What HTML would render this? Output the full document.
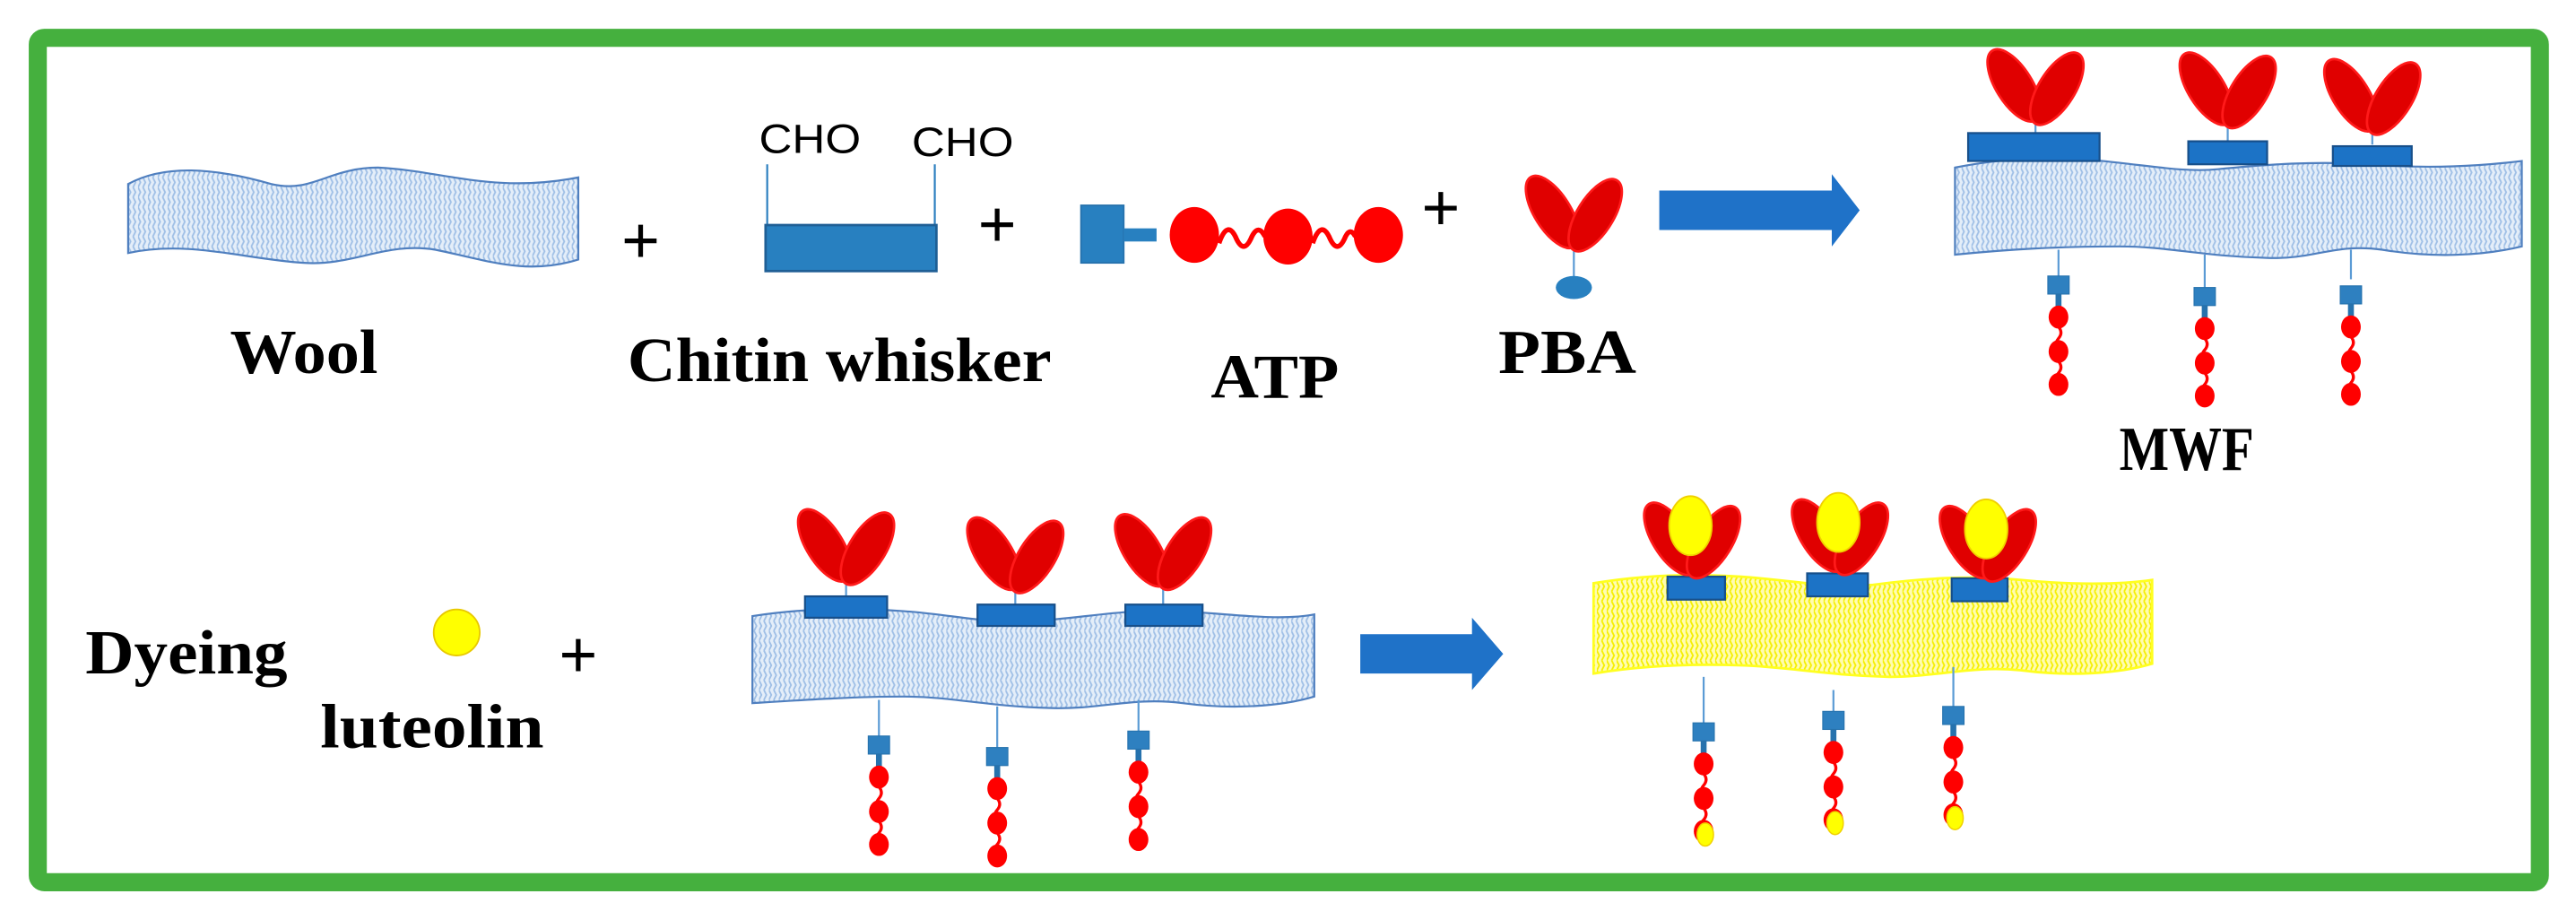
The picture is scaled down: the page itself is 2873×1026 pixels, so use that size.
<!DOCTYPE html>
<html><head><meta charset="utf-8"><style>html,body{margin:0;padding:0;background:#fff}svg{display:block}</style></head>
<body>
<svg width="2873" height="1026" viewBox="0 0 1568 560" preserveAspectRatio="none" xmlns="http://www.w3.org/2000/svg">
<defs>
<pattern id="hb" width="6" height="6" patternUnits="userSpaceOnUse">
<rect width="6" height="6" fill="#e4eef9"/>
<path d="M0,0 L1.5,3 L0,6 M3,0 L4.5,3 L3,6" stroke="#9fbfe6" stroke-width="1" fill="none"/>
</pattern>
<pattern id="hy" width="6" height="6" patternUnits="userSpaceOnUse">
<rect width="6" height="6" fill="#fffcb0"/>
<path d="M0,0 L1.5,3 L0,6 M3,0 L4.5,3 L3,6" stroke="#f5ef00" stroke-width="1" fill="none"/>
</pattern>
<g id="v">
<ellipse cx="-13" cy="-22" rx="11" ry="25" transform="rotate(-32 -13 -22)" fill="#e00000" stroke="#ff1a1a" stroke-width="1.5"/>
<ellipse cx="13" cy="-20" rx="11" ry="25" transform="rotate(32 13 -20)" fill="#e00000" stroke="#ff1a1a" stroke-width="1.5"/>
</g>
<g id="vy">
<use href="#v"/>
<ellipse cx="-1" cy="-30" rx="13" ry="18" fill="#ffff00" stroke="#f0d000" stroke-width="1"/>
</g>
<g id="ch">
<rect x="-6.5" y="0" width="13" height="11" fill="#2e80c0" stroke="#2672ad" stroke-width="0.6"/>
<rect x="-1.8" y="11" width="3.6" height="9" fill="#2672ad"/>
<ellipse cx="0" cy="25" rx="6" ry="7" fill="#ff0000"/>
<ellipse cx="0" cy="46" rx="6" ry="7" fill="#ff0000"/>
<ellipse cx="0" cy="66" rx="6" ry="7" fill="#ff0000"/>
<path d="M0,31 q3,3.5 0,7 q-3,3.5 0,7 M0,52 q3,3.5 0,7 q-3,3.5 0,7" stroke="#ff0000" stroke-width="1.8" fill="none"/>
</g>
<g id="chy">
<use href="#ch"/>
<ellipse cx="1" cy="68" rx="5" ry="7" fill="#ffff00" stroke="#f0d000" stroke-width="0.8"/>
</g>
</defs>

<rect x="0" y="0" width="1568" height="560" fill="#fff"/>
<rect x="23" y="23" width="1523" height="514" rx="4" fill="none" stroke="#45b03e" stroke-width="11"/>

<!-- Wool -->
<path d="M78,112 C100,100 130,102 165,112 C190,118 200,102 230,102 C270,104 300,118 352,108 L352,158 C320,168 295,158 265,152 C235,147 215,162 185,160 C150,158 115,146 78,154 Z" fill="url(#hb)" stroke="#4f7fbf" stroke-width="1.2"/>
<g font-family="Liberation Sans, sans-serif" font-size="40" text-anchor="middle">
<text x="390" y="160">+</text>
<text x="607" y="150">+</text>
<text x="877" y="140">+</text>
<text x="352" y="412">+</text>
</g>

<!-- Chitin whisker -->
<line x1="467" y1="100" x2="467" y2="137" stroke="#2e80c0" stroke-width="1.2"/>
<line x1="569" y1="100" x2="569" y2="137" stroke="#2e80c0" stroke-width="1.2"/>
<rect x="466" y="137" width="104" height="28" fill="#2880c0" stroke="#1f5f95" stroke-width="1.5"/>
<text x="462" y="93" font-family="Liberation Sans, sans-serif" font-size="25" textLength="62" lengthAdjust="spacingAndGlyphs">CHO</text>
<text x="555" y="95" font-family="Liberation Sans, sans-serif" font-size="25" textLength="62" lengthAdjust="spacingAndGlyphs">CHO</text>

<!-- ATP -->
<rect x="658" y="125" width="26" height="35" fill="#2880c0" stroke="#2672ad"/>
<rect x="684" y="139" width="20" height="8" fill="#2880c0"/>
<ellipse cx="727" cy="143" rx="15" ry="17" fill="#ff0000"/>
<ellipse cx="784" cy="144" rx="15" ry="17" fill="#ff0000"/>
<ellipse cx="839" cy="143" rx="15" ry="17" fill="#ff0000"/>
<path d="M742,148 q5,-14 10,-4 q5,12 10,0 q4,-8 8,0 M799,148 q5,-14 10,-4 q5,12 10,0 q3,-6 6,0" stroke="#ff0000" stroke-width="3" fill="none"/>

<!-- PBA -->
<line x1="958" y1="148" x2="958" y2="172" stroke="#5b9bd5" stroke-width="1.2"/>
<use href="#v" x="958" y="151"/>
<ellipse cx="958" cy="175" rx="11" ry="7" fill="#2880c0"/>

<!-- arrow 1 -->
<path d="M1010,116 L1115,116 L1115,106 L1132,128 L1115,150 L1115,140 L1010,140 Z" fill="#1f72c8"/>

<!-- labels -->
<g font-family="Liberation Serif, serif" font-weight="bold" font-size="38">
<text x="140" y="227" textLength="90" lengthAdjust="spacingAndGlyphs">Wool</text>
<text x="382" y="232" textLength="258" lengthAdjust="spacingAndGlyphs">Chitin whisker</text>
<text x="737" y="242" textLength="78" lengthAdjust="spacingAndGlyphs">ATP</text>
<text x="912" y="227" textLength="84" lengthAdjust="spacingAndGlyphs">PBA</text>
<text x="1290" y="286" textLength="82" lengthAdjust="spacingAndGlyphs">MWF</text>
<text x="52" y="410" textLength="123" lengthAdjust="spacingAndGlyphs">Dyeing</text>
<text x="195" y="455" textLength="136" lengthAdjust="spacingAndGlyphs">luteolin</text>
</g>

<!-- MWF -->
<path d="M1190,102 C1220,96 1250,95 1280,98 C1310,101 1330,105 1350,103 C1380,100 1410,98 1440,100 C1480,103 1510,101 1535,98 L1535,150 C1510,156 1480,157 1450,152 C1420,148 1410,158 1380,157 C1340,156 1320,150 1290,150 C1250,150 1220,152 1190,155 Z" fill="url(#hb)" stroke="#4f7fbf" stroke-width="1.2"/>
<line x1="1239" y1="70" x2="1239" y2="82" stroke="#5b9bd5" stroke-width="1.2"/>
<line x1="1356" y1="72" x2="1356" y2="86" stroke="#5b9bd5" stroke-width="1.2"/>
<line x1="1444" y1="76" x2="1444" y2="88" stroke="#5b9bd5" stroke-width="1.2"/>
<rect x="1198" y="81" width="80" height="17" fill="#1c73c6" stroke="#174f8a" stroke-width="1.2"/>
<rect x="1332" y="86" width="48" height="14" fill="#1c73c6" stroke="#174f8a" stroke-width="1.2"/>
<rect x="1420" y="89" width="48" height="12" fill="#1c73c6" stroke="#174f8a" stroke-width="1.2"/>
<use href="#v" x="1239" y="74"/>
<use href="#v" x="1356" y="76"/>
<use href="#v" x="1444" y="80"/>
<line x1="1253" y1="152" x2="1253" y2="168" stroke="#5b9bd5" stroke-width="1.2"/>
<line x1="1342" y1="155" x2="1342" y2="175" stroke="#5b9bd5" stroke-width="1.2"/>
<line x1="1431" y1="152" x2="1431" y2="170" stroke="#5b9bd5" stroke-width="1.2"/>
<use href="#ch" x="1253" y="168"/>
<use href="#ch" x="1342" y="175"/>
<use href="#ch" x="1431" y="174"/>

<!-- Row 2 -->
<circle cx="278" cy="385" r="14" fill="#ffff00" stroke="#e8c800" stroke-width="1"/>

<path d="M458,375 C490,370 520,370 550,372 C580,374 600,380 630,378 C660,376 690,370 720,372 C750,374 780,378 800,374 L800,424 C780,430 750,432 720,428 C690,424 670,432 640,431 C600,430 580,424 550,424 C520,424 490,426 458,428 Z" fill="url(#hb)" stroke="#4f7fbf" stroke-width="1.2"/>
<line x1="515" y1="350" x2="515" y2="364" stroke="#5b9bd5" stroke-width="1.2"/>
<line x1="618" y1="355" x2="618" y2="368" stroke="#5b9bd5" stroke-width="1.2"/>
<line x1="708" y1="353" x2="708" y2="368" stroke="#5b9bd5" stroke-width="1.2"/>
<rect x="490" y="363" width="50" height="13" fill="#1c73c6" stroke="#174f8a" stroke-width="1.2"/>
<rect x="595" y="368" width="47" height="13" fill="#1c73c6" stroke="#174f8a" stroke-width="1.2"/>
<rect x="685" y="368" width="47" height="13" fill="#1c73c6" stroke="#174f8a" stroke-width="1.2"/>
<use href="#v" x="515" y="354"/>
<use href="#v" x="618" y="359"/>
<use href="#v" x="708" y="357"/>
<line x1="535" y1="426" x2="535" y2="448" stroke="#5b9bd5" stroke-width="1.2"/>
<line x1="607" y1="430" x2="607" y2="455" stroke="#5b9bd5" stroke-width="1.2"/>
<line x1="693" y1="426" x2="693" y2="445" stroke="#5b9bd5" stroke-width="1.2"/>
<use href="#ch" x="535" y="448"/>
<use href="#ch" x="607" y="455"/>
<use href="#ch" x="693" y="445"/>

<!-- arrow 2 -->
<path d="M828,386 L896,386 L896,376 L915,398 L896,420 L896,410 L828,410 Z" fill="#1f72c8"/>

<!-- yellow fibre -->
<path d="M970,355 C1000,350 1030,349 1060,351 C1090,353 1110,358 1140,356 C1170,352 1200,350 1230,353 C1260,356 1290,356 1310,353 L1310,404 C1290,410 1260,412 1230,408 C1200,405 1180,412 1150,412 C1110,411 1090,406 1060,405 C1030,404 1000,405 970,410 Z" fill="url(#hy)" stroke="#ffff20" stroke-width="1.5"/>
<rect x="1015" y="351" width="35" height="14" fill="#1c73c6" stroke="#174f8a" stroke-width="1.2"/>
<rect x="1100" y="349" width="37" height="14" fill="#1c73c6" stroke="#174f8a" stroke-width="1.2"/>
<rect x="1188" y="352" width="34" height="14" fill="#1c73c6" stroke="#174f8a" stroke-width="1.2"/>
<use href="#vy" x="1030" y="350"/>
<use href="#vy" x="1120" y="348"/>
<use href="#vy" x="1210" y="352"/>
<line x1="1037" y1="412" x2="1037" y2="440" stroke="#5b9bd5" stroke-width="1.2"/>
<line x1="1116" y1="420" x2="1116" y2="433" stroke="#5b9bd5" stroke-width="1.2"/>
<line x1="1189" y1="406" x2="1189" y2="430" stroke="#5b9bd5" stroke-width="1.2"/>
<use href="#chy" x="1037" y="440"/>
<use href="#chy" x="1116" y="433"/>
<use href="#chy" x="1189" y="430"/>
</svg>
</body></html>
